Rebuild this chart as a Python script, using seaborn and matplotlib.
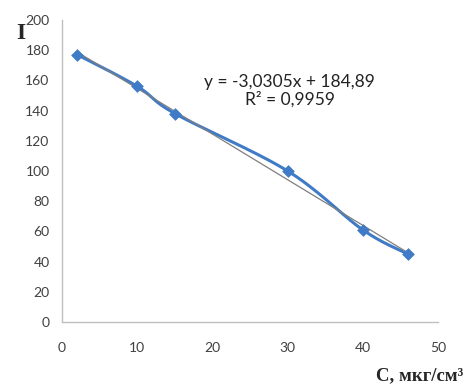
import numpy as np
import pandas as pd
import seaborn as sns
import matplotlib.pyplot as plt

# data
conc = [2, 10, 15, 30, 40, 46]
intensity = [177, 156, 138, 100, 61, 45]
x_ticks = [0, 10, 20, 30, 40, 50]
y_ticks = [0, 20, 40, 60, 80, 100, 120, 140, 160, 180, 200]
eq_text = 'y = -3,0305x + 184,89\nR² = 0,9959'

df = pd.DataFrame({'C': conc, 'I': intensity})

sns.set_style('white')
plt.rcParams['font.family'] = ['Lato', 'DejaVu Sans']

blue = '#3F7BC6'
grey = '#BFBFBF'


# excel-like smoothed line (bezier through the points)
def smooth(xs, ys, n=30):
    p = np.column_stack([xs, ys]).astype(float)
    out = []
    for i in range(len(p) - 1):
        p0 = p[i - 1] if i > 0 else p[i]
        p1, p2 = p[i], p[i + 1]
        p3 = p[i + 2] if i + 2 < len(p) else p[i + 1]
        c1 = p1 + (p2 - p0) / 6
        c2 = p2 - (p3 - p1) / 6
        t = np.linspace(0, 1, n)[:, None]
        seg = (1 - t)**3 * p1 + 3 * (1 - t)**2 * t * c1 + 3 * (1 - t) * t**2 * c2 + t**3 * p2
        out.append(seg)
    out = np.vstack(out)
    return out[:, 0], out[:, 1]


fig = plt.figure(figsize=(4.7, 3.89), dpi=100)
ax = fig.add_axes([0.132, 0.172, 0.8, 0.777])

sx, sy = smooth(conc, intensity)
ax.plot(sx, sy, color=blue, lw=2.2, zorder=2)
sns.regplot(data=df, x='C', y='I', scatter=False, ci=None, ax=ax,
            line_kws={'color': '#7F7F7F', 'lw': 0.9, 'zorder': 3})
sns.scatterplot(data=df, x='C', y='I', marker='D', s=36, color=blue,
                edgecolor=blue, ax=ax, zorder=4)

ax.set_xlim(0, 50)
ax.set_ylim(0, 200)
ax.set_xticks(x_ticks)
ax.set_yticks(y_ticks)
ax.tick_params(axis='both', length=4, width=1, color=grey, direction='out',
               labelsize=10, labelcolor='#404040', pad=5)
ax.tick_params(axis='x', pad=10)
for s in ['top', 'right']:
    ax.spines[s].set_visible(False)
for s in ['left', 'bottom']:
    ax.spines[s].set_color(grey)
    ax.spines[s].set_linewidth(1)
ax.set_xlabel('')
ax.set_ylabel('')

ax.text(30.3, 153, eq_text, ha='center', va='center', fontsize=12.5,
        color='#222222', linespacing=1.1)
fig.text(0.045, 0.915, 'I', family='Liberation Serif', fontweight='bold',
         fontsize=17, ha='center', va='center')
fig.text(0.985, 0.035, 'C, мкг/см³', family='Liberation Serif',
         fontweight='bold', fontsize=13.5, ha='right', va='center')

fig.savefig('out.png', dpi=100)
